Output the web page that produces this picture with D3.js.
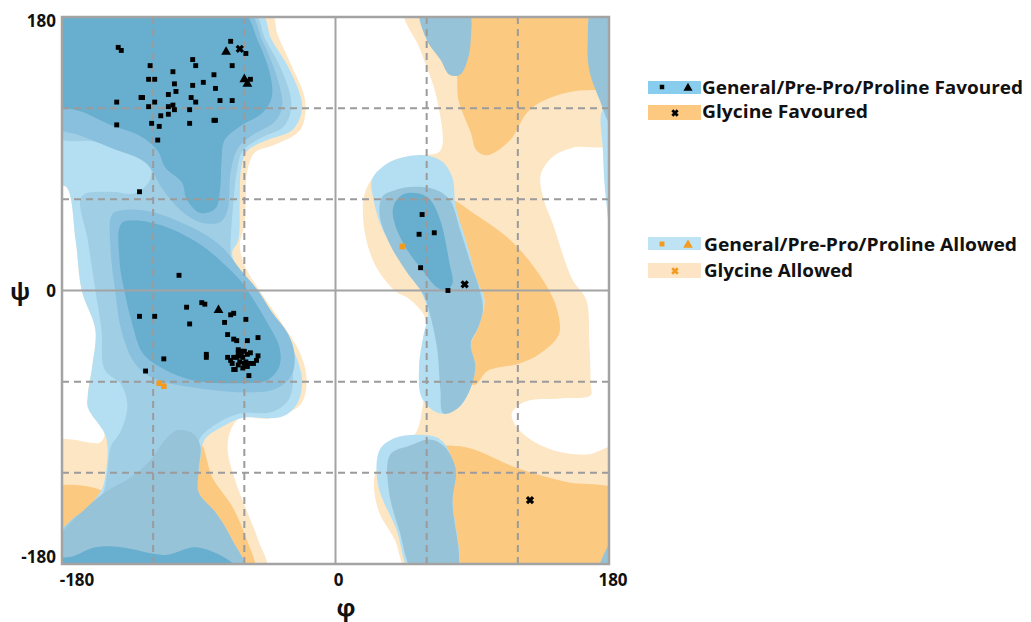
<!doctype html>
<html>
<head>
<meta charset="utf-8"/>
<title>Ramachandran plot</title>
<script src="https://d3js.org/d3.v7.min.js"></script>
<style>
body { margin:0; background:#fff; }
text { font-family: "Open Sans", "DejaVu Sans", sans-serif; font-weight:700; fill:#111; }
</style>
</head>
<body>
<script>
// ---- data (phi, psi in degrees) ----
var phiTicks = [-180, 0, 180];
var psiTicks = [180, 0, -180];
var gridVals = [-120, -60, 60, 120];

// glycine allowed
var gaLeft = [[-185,185],[-44,185],[-38,168],[-29,148],[-20,125],[-23,106],[-40,96],[-53,91],[-58,79],[-59,60],[-60,43],[-63,30],[-60,17],[-50,0],[-37,-19],[-23,-42],[-19,-59],[-23,-75],[-43,-84],[-63,-84],[-69,-92],[-71,-105],[-66,-125],[-58,-146],[-51,-164],[-46,-185],[-185,-185],[-185,-100],[-155,-100],[-152,-94],[-162,-79],[-163,-69],[-160,-49],[-158,-26],[-167,0],[-171,33],[-177,68],[-185,69]];
var gaRight = [[46,185],[187,185],[187,98],[156,94],[143,88],[135,76],[137,60],[143,44],[156,7],[165,-6],[167,-33],[168,-62],[168,-69],[148,-71],[125,-73],[116,-81],[121,-92],[140,-104],[165,-108],[187,-103],[187,-185],[49,-185],[39,-164],[28,-144],[26,-121],[39,-102],[52,-95],[58,-72],[59,-59],[59,-36],[59,-18],[49,-6],[39,0],[26,17],[19,40],[19,63],[26,76],[39,86],[56,89],[69,92],[67,125],[56,158]];
// glycine favoured
var gfTop = [[75,185],[187,185],[187,132],[174,132],[156,131],[137,125],[126,117],[115,99],[100,89],[93,92],[89,104],[81,125],[80,141],[79,165]];
var gfMid = [[75,60],[92,50],[113,35],[128,19],[140,1],[146,-13],[147,-29],[134,-42],[121,-48],[100,-53],[92,-62],[85,-59],[89,-35],[94,-24],[98,-6],[89,13],[79,40]];
var gfLow = [[63,-104],[85,-103],[120,-117],[152,-126],[187,-133],[187,-185],[69,-185],[72,-138],[69,-112]];
var gfWedge = [[-185,-130],[-152,-133],[-163,-143],[-175,-152],[-185,-161]];
var gfStrip = [[-88,-102],[-81,-123],[-68,-142],[-60,-160],[-53,-185],[-66,-185],[-73,-164],[-84,-144],[-92,-131],[-92,-112]];
// general/pre-pro/proline, outer allowed level
var b1Left = [[-185,185],[-51,185],[-42,165],[-30,145],[-22,121],[-28,106],[-45,99],[-58,92],[-62,81],[-63,60],[-64,33],[-68,25],[-66,18],[-58,7],[-46,-13],[-33,-29],[-25,-46],[-22,-59],[-25,-74],[-35,-83],[-62,-84],[-75,-90],[-86,-98],[-89,-112],[-90,-133],[-79,-146],[-68,-164],[-60,-185],[-185,-185],[-185,-159],[-179,-158],[-155,-133],[-152,-125],[-150,-103],[-152,-94],[-163,-77],[-163,-69],[-160,-49],[-158,-26],[-167,0],[-171,33],[-177,68],[-185,71]];
var b1Blob = [[24,73],[33,83],[46,88],[59,89],[70,85],[77,74],[79,56],[87,29],[93,7],[98,-6],[94,-24],[89,-35],[92,-50],[89,-64],[81,-77],[69,-81],[57,-71],[55,-50],[58,-29],[61,-15],[56,0],[47,15],[31,40],[25,60]];
var b1Edge = [[176,119],[187,119],[187,33],[182,37],[178,60],[176,92]];
var b1Low = [[29,-105],[39,-97],[56,-95],[69,-98],[77,-112],[77,-138],[79,-185],[50,-185],[40,-157],[28,-128]];
// middle levels
var b2Left = [[-185,185],[-56,185],[-46,165],[-35,144],[-29,122],[-34,108],[-48,101],[-61,92],[-65,78],[-67,60],[-69,33],[-69,23],[-69,15],[-61,4],[-50,-14],[-38,-31],[-30,-46],[-28,-59],[-31,-72],[-42,-80],[-63,-81],[-77,-87],[-89,-97],[-92,-112],[-93,-133],[-83,-148],[-71,-167],[-63,-185],[-185,-185],[-185,-164],[-175,-152],[-154,-135],[-150,-118],[-148,-103],[-141,-92],[-137,-75],[-141,-62],[-152,-52],[-154,-26],[-158,0],[-163,33],[-167,62],[-148,65],[-132,64],[-122,73],[-123,86],[-139,92],[-158,98],[-185,102]];
var grayLeft = [[-185,-167],[-179,-158],[-165,-144],[-152,-133],[-135,-123],[-122,-112],[-112,-98],[-104,-92],[-94,-94],[-89,-102],[-90,-118],[-90,-133],[-79,-146],[-68,-164],[-60,-185],[-185,-185]];
var grayTop = [[56,185],[87,185],[89,165],[87,152],[82,142],[75,142],[69,152],[60,165]];
var grayEdge = [[169,185],[187,185],[187,106],[181,109],[174,125],[167,145],[166,165]];
var grayLow = [[36,-108],[49,-102],[62,-98],[71,-102],[79,-117],[77,-139],[79,-185],[52,-185],[42,-158],[35,-131]];
var grayCorner = [[173,-185],[176,-175],[183,-162],[187,-158],[187,-185]];
var grayRing = [[29,50],[31,62],[39,66],[47,68],[64,67],[75,60],[82,40],[89,18],[95,0],[97,-13],[94,-24],[89,-35],[92,-50],[89,-64],[81,-77],[71,-81],[69,-65],[67,-39],[63,-19],[58,-3],[47,12],[36,30]];
var b3Top = [[-185,185],[-59,185],[-48,164],[-39,142],[-35,122],[-40,111],[-55,102],[-64,94],[-69,78],[-71,53],[-76,45],[-89,45],[-101,52],[-114,67],[-125,84],[-148,94],[-168,102],[-185,109]];
var b3Mid = [[-147,50],[-139,53],[-122,52],[-102,45],[-86,37],[-73,27],[-62,13],[-51,0],[-42,-14],[-31,-29],[-27,-42],[-29,-56],[-40,-65],[-60,-67],[-92,-64],[-119,-58],[-132,-48],[-141,-26],[-145,0],[-148,27]];
// favoured cores
var b4Top = [[-185,185],[-63,185],[-51,164],[-43,142],[-42,127],[-48,117],[-63,108],[-73,99],[-75,86],[-76,66],[-79,54],[-89,51],[-98,60],[-101,71],[-112,81],[-117,92],[-129,102],[-148,109],[-165,117],[-185,125]];
var b4Mid = [[-141,44],[-132,46],[-112,42],[-90,31],[-75,19],[-63,7],[-54,-6],[-45,-21],[-37,-37],[-37,-50],[-45,-59],[-61,-61],[-94,-59],[-116,-50],[-127,-41],[-134,-21],[-139,0],[-142,18]];
var b4Bottom = [[-185,-185],[-185,-177],[-173,-175],[-158,-169],[-141,-169],[-112,-174],[-92,-169],[-71,-177],[-63,-185]];
var b4Right = [[38,55],[44,63],[54,64],[62,60],[69,46],[75,18],[77,5],[73,0],[67,2],[56,15],[47,27],[39,44]];

// residues
var favSquares = [[-143,160],[-141,158],[-69,164],[-59,156],[-94,152],[-92,148],[-122,148],[-68,148],[-107,144],[-80,142],[-123,139],[-119,139],[-87,137],[-56,139],[-106,136],[-94,135],[-79,133],[-105,131],[-110,129],[-128,127],[-127,127],[-95,127],[-76,125],[-68,125],[-144,124],[-119,124],[-92,124],[-107,122],[-110,121],[-123,121],[-96,119],[-106,119],[-110,116],[-115,115],[-80,112],[-79,112],[-96,110],[-121,110],[-144,109],[-116,108],[-117,99],[-129,65],[-103,10],[-129,-17],[-119,-17],[-98,-11],[-88,-8],[-86,-9],[-67,-15],[-69,-16],[-96,-22],[-73,-21],[-59,-19],[-71,-29],[-67,-32],[-65,-33],[-58,-33],[-51,-31],[-113,-45],[-85,-42],[-85,-44],[-125,-53],[-64,-39],[-63,-40],[-62,-40],[-60,-40],[-64,-41],[-56,-41],[-58,-42],[-71,-44],[-67,-44],[-65,-44],[-62,-43],[-61,-44],[-51,-43],[-52,-46],[-68,-48],[-63,-47],[-60,-48],[-56,-48],[-54,-48],[-64,-49],[-58,-50],[-61,-51],[-67,-52],[-57,-56],[-59,-47],[-69,-46],[-66,-52],[57,50],[55,37],[65,38],[56,15],[74,0]];
var favTriangles = [[-72,157],[-60,139],[-58,136],[-77,-13]];
var glyCrosses = [[-63,159],[85,4],[128,-138]];
var allowedSquares = [[44,29],[-116,-61],[-113,-63]];

var legendLabels = ["General/Pre-Pro/Proline Favoured", "Glycine Favoured", "General/Pre-Pro/Proline Allowed", "Glycine Allowed"];

// ---- drawing ----
var W = 1031, H = 622;
var svg = d3.select("body").append("svg").attr("width", W).attr("height", H);

var x = d3.scaleLinear().domain([-180, 180]).range([62, 609]);
var y = d3.scaleLinear().domain([-180, 180]).range([564, 17]);

svg.append("clipPath").attr("id", "plotclip")
  .append("rect").attr("x", 62).attr("y", 17).attr("width", 547).attr("height", 547);

var area = d3.line().x(function(d){ return x(d[0]); }).y(function(d){ return y(d[1]); })
  .curve(d3.curveCatmullRomClosed.alpha(0.5));

var plot = svg.append("g").attr("clip-path", "url(#plotclip)");

var layers = [
  [gaLeft, "#fde6c4"], [gaRight, "#fde6c4"],
  [gfTop, "#fcc980"], [gfMid, "#fcc980"], [gfLow, "#fcc980"], [gfWedge, "#fcc980"], [gfStrip, "#fcc980"],
  [b1Left, "#b4dff2"], [b1Blob, "#b4dff2"], [b1Edge, "#b4dff2"], [b1Low, "#b4dff2"],
  [b2Left, "#a0cee5"], [grayLeft, "#97c3d8"], [grayTop, "#97c3d8"], [grayEdge, "#97c3d8"],
  [grayLow, "#97c3d8"], [grayCorner, "#97c3d8"], [grayRing, "#94c3da"],
  [b3Top, "#89c0dd"], [b3Mid, "#89c0dd"],
  [b4Top, "#67aecf"], [b4Mid, "#67aecf"], [b4Bottom, "#67aecf"], [b4Right, "#67aecf"]
];
plot.selectAll("path.region").data(layers).enter().append("path")
  .attr("class", "region")
  .attr("d", function(d){ return area(d[0]); })
  .attr("fill", function(d){ return d[1]; });

// grid
var grid = svg.append("g");
gridVals.forEach(function(v){
  grid.append("line").attr("x1", x(v)).attr("x2", x(v)).attr("y1", y(180)).attr("y2", y(-180))
    .attr("stroke", "#9b9b9b").attr("stroke-width", 2).attr("stroke-dasharray", "7,5");
  grid.append("line").attr("y1", y(v)).attr("y2", y(v)).attr("x1", x(-180)).attr("x2", x(180))
    .attr("stroke", "#9b9b9b").attr("stroke-width", 2).attr("stroke-dasharray", "7,5");
});
grid.append("line").attr("x1", x(0)).attr("x2", x(0)).attr("y1", y(180)).attr("y2", y(-180))
  .attr("stroke", "#a3a3a3").attr("stroke-width", 2);
grid.append("line").attr("y1", y(0)).attr("y2", y(0)).attr("x1", x(-180)).attr("x2", x(180))
  .attr("stroke", "#a3a3a3").attr("stroke-width", 2);
svg.append("rect").attr("x", x(-180)).attr("y", y(180))
  .attr("width", x(180) - x(-180)).attr("height", y(-180) - y(180))
  .attr("fill", "none").attr("stroke", "#a3a3a3").attr("stroke-width", 2.5);

// residues
var pts = svg.append("g");
function sym(type, size){ return d3.symbol().type(type).size(size)(); }
pts.selectAll("path.fs").data(favSquares).enter().append("path")
  .attr("transform", function(d){ return "translate(" + x(d[0]) + "," + y(d[1]) + ")"; })
  .attr("d", sym(d3.symbolSquare, 24)).attr("fill", "#000");
pts.selectAll("path.ft").data(favTriangles).enter().append("path")
  .attr("transform", function(d){ return "translate(" + x(d[0]) + "," + y(d[1]) + ")"; })
  .attr("d", sym(d3.symbolTriangle, 42)).attr("fill", "#000");
pts.selectAll("path.gc").data(glyCrosses).enter().append("path")
  .attr("transform", function(d){ return "translate(" + x(d[0]) + "," + y(d[1]) + ")"; })
  .attr("d", sym(d3.symbolX, 26)).attr("fill", "none").attr("stroke", "#000").attr("stroke-width", 3.2);
pts.selectAll("path.as").data(allowedSquares).enter().append("path")
  .attr("transform", function(d){ return "translate(" + x(d[0]) + "," + y(d[1]) + ")"; })
  .attr("d", sym(d3.symbolSquare, 32)).attr("fill", "#f39a1f");

// axis labels
var phiOff = [15, 3, 4];
svg.selectAll("text.xt").data(phiTicks).enter().append("text")
  .attr("x", function(d, i){ return x(d) + phiOff[i]; }).attr("y", 586)
  .attr("text-anchor", "middle").attr("font-size", 17).text(function(d){ return d; });
var psiOff = [4, 0, -7];
svg.selectAll("text.yt").data(psiTicks).enter().append("text")
  .attr("x", 56).attr("y", function(d, i){ return y(d) + psiOff[i] + 6; })
  .attr("text-anchor", "end").attr("font-size", 17).text(function(d){ return d; });
svg.append("text").attr("x", 346).attr("y", 616).attr("text-anchor", "middle")
  .attr("font-size", 24).text("φ");
svg.append("text").attr("x", 20).attr("y", 300).attr("text-anchor", "middle")
  .attr("font-size", 24).text("ψ");

// legend
var lg = svg.append("g");
var swY = [81, 105, 237, 263], swC = ["#88cdee", "#fdc880", "#bde3f5", "#fde4c4"];
var txY = [94, 118, 251, 277], txX = [702, 702, 704, 704], txL = [321, 166, 313, 149];
swY.forEach(function(v, i){
  lg.append("rect").attr("x", 648).attr("y", v).attr("width", 53).attr("height", i % 2 ? 15 : 13).attr("fill", swC[i]);
  lg.append("text").attr("x", txX[i]).attr("y", txY[i]).attr("font-size", 18)
    .attr("textLength", txL[i]).attr("lengthAdjust", "spacingAndGlyphs").text(legendLabels[i]);
});
lg.append("path").attr("transform", "translate(662,87)").attr("d", sym(d3.symbolSquare, 20)).attr("fill", "#000");
lg.append("path").attr("transform", "translate(688,88)").attr("d", sym(d3.symbolTriangle, 36)).attr("fill", "#000");
lg.append("path").attr("transform", "translate(675,113)").attr("d", sym(d3.symbolX, 20)).attr("fill", "none").attr("stroke", "#000").attr("stroke-width", 2.8);
lg.append("path").attr("transform", "translate(662,244)").attr("d", sym(d3.symbolSquare, 24)).attr("fill", "#f39a1f");
lg.append("path").attr("transform", "translate(688,245)").attr("d", sym(d3.symbolTriangle, 40)).attr("fill", "#f39a1f");
lg.append("path").attr("transform", "translate(675,271)").attr("d", sym(d3.symbolX, 22)).attr("fill", "none").attr("stroke", "#f39a1f").attr("stroke-width", 2.6);
</script>
</body>
</html>
